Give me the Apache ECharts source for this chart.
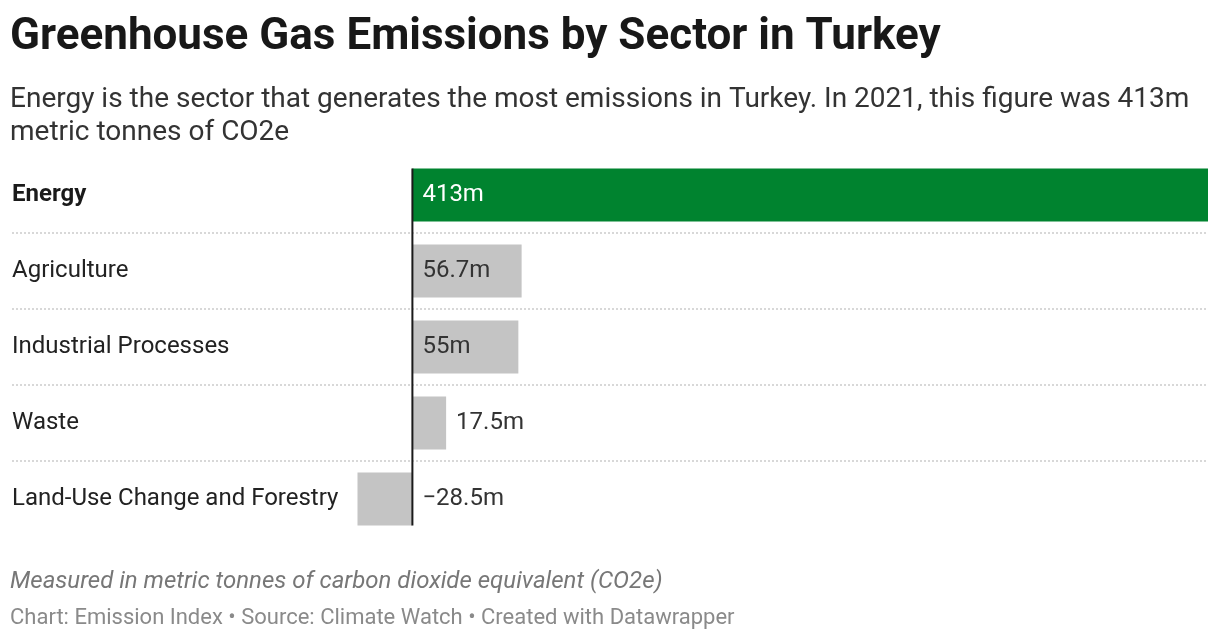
<!DOCTYPE html>
<html>
<head>
<meta charset="utf-8">
<script src="https://cdn.jsdelivr.net/npm/echarts@6/dist/echarts.min.js"></script>
<style>
  html, body { margin: 0; padding: 0; background: #fff; }
  #chart { width: 1220px; height: 640px; }
</style>
</head>
<body>
<div id="chart"></div>
<script>
var sectors = ['Energy', 'Agriculture', 'Industrial Processes', 'Waste', 'Land-Use Change and Forestry'];
var emissions = [413, 56.7, 55, 17.5, -28.5];
var valueLabels = ['413m', '56.7m', '55m', '17.5m', '\u221228.5m'];
var labelPlace = ['insideLeft', 'insideLeft', 'insideLeft', 'right', 'right'];
var barColors = ['#00832f', '#c4c4c4', '#c4c4c4', '#c4c4c4', '#c4c4c4'];

var chart = echarts.init(document.getElementById('chart'));
var FONT = 'Roboto';

var seriesData = emissions.map(function (v, i) {
  return {
    value: v,
    itemStyle: { color: barColors[i] },
    label: {
      position: labelPlace[i],
      distance: 10,
      color: i === 0 ? '#ffffff' : '#333333'
    }
  };
});

var option = {
  backgroundColor: '#ffffff',
  animation: false,
  title: [{
    text: 'Greenhouse Gas Emissions by Sector in Turkey',
    left: 10,
    top: 16,
    padding: 0,
    textStyle: { fontFamily: FONT, fontSize: 44, lineHeight: 44, fontWeight: 'bold', color: '#181818' }
  }, {
    text: 'Energy is the sector that generates the most emissions in Turkey. In 2021, this figure was 413m\nmetric tonnes of CO2e',
    left: 10,
    top: 83,
    padding: 0,
    textStyle: { fontFamily: FONT, fontSize: 28, fontWeight: 'normal', color: '#333333', lineHeight: 33 }
  }, {
    text: 'Measured in metric tonnes of carbon dioxide equivalent (CO2e)',
    left: 10,
    top: 569,
    padding: 0,
    textStyle: { fontFamily: FONT, fontSize: 24, lineHeight: 26, fontStyle: 'italic', fontWeight: 'normal', color: '#777777' }
  }, {
    text: 'Chart: Emission Index \u2022 Source: Climate Watch \u2022 Created with Datawrapper',
    left: 10,
    top: 606,
    padding: 0,
    textStyle: { fontFamily: FONT, fontSize: 22, lineHeight: 24, fontWeight: 'normal', color: '#8a8a8a' }
  }],
  grid: { left: 357.5, right: 12, top: 157, height: 380 },
  xAxis: {
    type: 'value',
    min: -28.5,
    max: 413,
    show: false
  },
  yAxis: {
    type: 'category',
    inverse: true,
    data: sectors,
    axisLine: { show: false },
    axisTick: { show: false },
    splitLine: { show: false },
    axisLabel: {
      align: 'left',
      margin: 345.5,
      fontFamily: FONT,
      fontSize: 24,
      color: '#222222',
      formatter: function (v, i) {
        return i === 0 ? '{b|' + v + '}' : v;
      },
      rich: {
        b: { fontFamily: FONT, fontSize: 24, fontWeight: 'bold', color: '#1a1a1a' }
      }
    }
  },
  series: [{
    type: 'bar',
    data: seriesData,
    barCategoryGap: '30%',
    label: {
      show: true,
      fontFamily: FONT,
      fontSize: 24,
      formatter: function (p) { return valueLabels[p.dataIndex]; }
    }
  }]
};

chart.setOption(option);

// separators between rows and the zero line, placed from the axis scales
function drawGuides() {
  var els = [];
  var yTop = chart.convertToPixel({ gridIndex: 0 }, [0, 0]);
  var yNext = chart.convertToPixel({ gridIndex: 0 }, [0, 1]);
  var band = yNext[1] - yTop[1];
  var half = band * 0.35;
  var xEnd = chart.convertToPixel({ gridIndex: 0 }, [413, 0])[0];
  for (var i = 0; i < sectors.length - 1; i++) {
    var yc = chart.convertToPixel({ gridIndex: 0 }, [0, i])[1] + band / 2;
    els.push({
      type: 'line',
      z: -1,
      shape: { x1: 12, y1: yc, x2: xEnd, y2: yc },
      style: { stroke: '#cccccc', lineWidth: 1.5, lineDash: [2, 2] }
    });
  }
  var first = chart.convertToPixel({ gridIndex: 0 }, [0, 0]);
  var last = chart.convertToPixel({ gridIndex: 0 }, [0, sectors.length - 1]);
  els.push({
    type: 'line',
    z: 10,
    shape: { x1: first[0], y1: first[1] - half, x2: first[0], y2: last[1] + half },
    style: { stroke: '#1a1a1a', lineWidth: 2 }
  });
  chart.setOption({ graphic: els });
}
drawGuides();
</script>
</body>
</html>
